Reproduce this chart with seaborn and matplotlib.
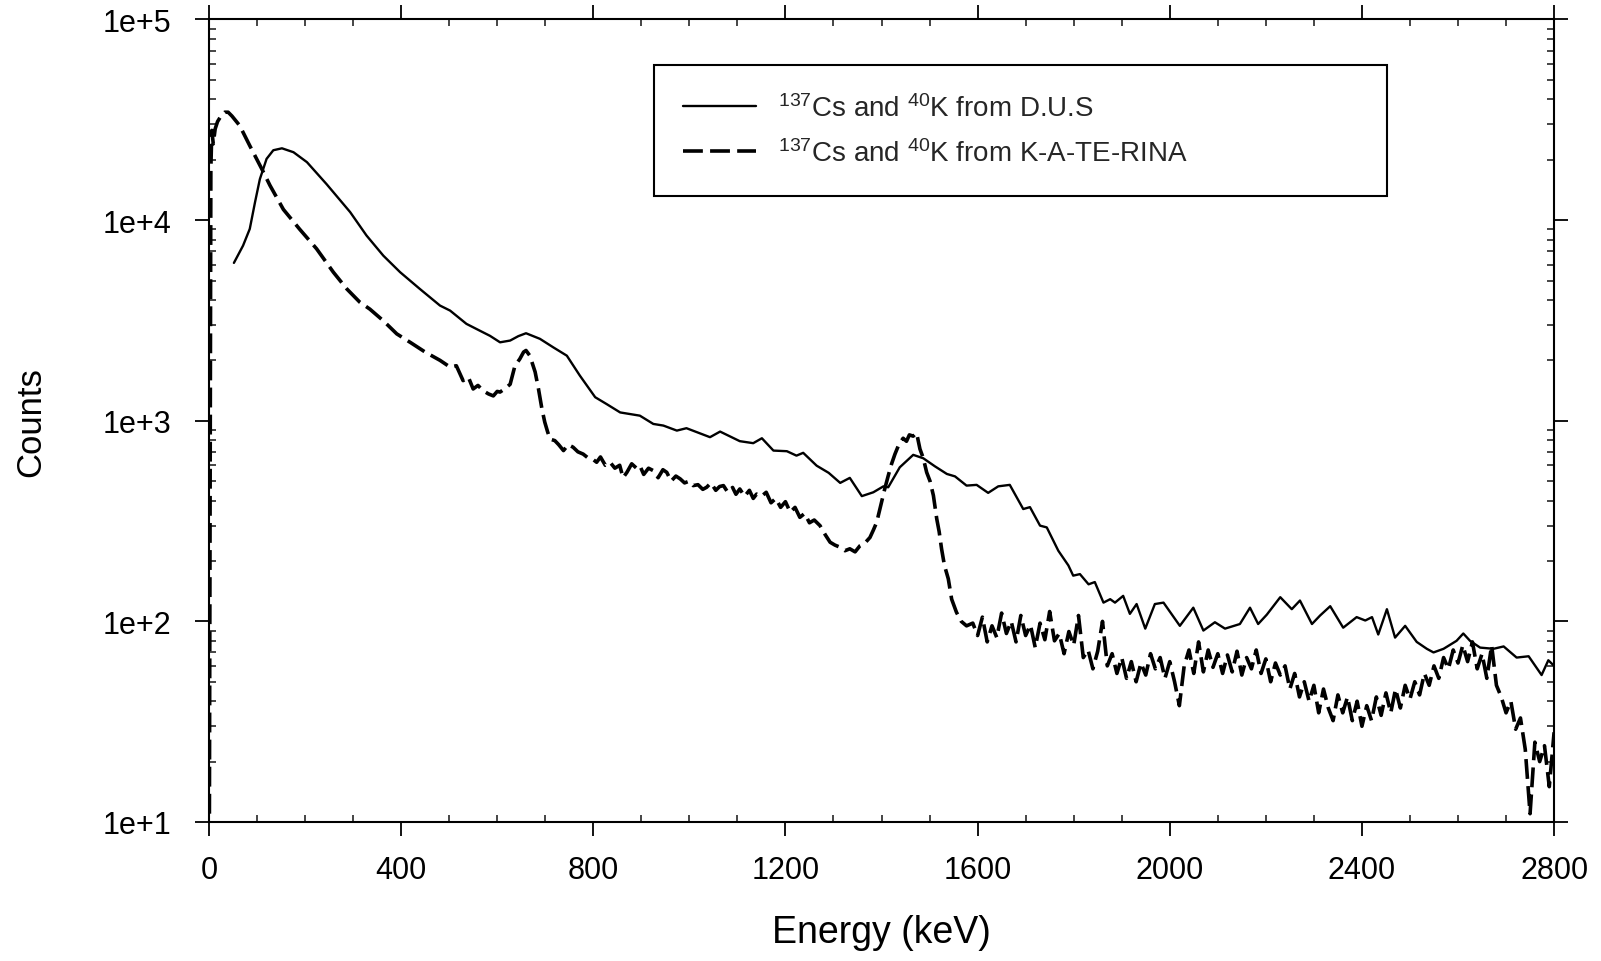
import matplotlib
matplotlib.use("Agg")
import matplotlib.pyplot as plt
import matplotlib.ticker as mticker
import seaborn as sns
import numpy as np

# ---------------- data ----------------
dus_energy = [52, 71, 85, 96, 106, 120, 134, 152, 176, 204, 245, 294, 328, 363, 398, 439,
              481, 502, 536, 564, 585, 606, 627, 644, 660, 689, 717, 745, 772, 804, 828,
              856, 897, 925, 946, 974, 994, 1043, 1064, 1105, 1133, 1151, 1175, 1203, 1223,
              1237, 1265, 1290, 1314, 1334, 1359, 1383, 1404, 1414, 1438, 1466, 1487, 1511,
              1536, 1553, 1577, 1598, 1622, 1643, 1667, 1695, 1709, 1730, 1744, 1768, 1789,
              1799, 1813, 1831, 1844, 1862, 1876, 1886, 1903, 1917, 1931, 1949, 1969, 1987,
              2021, 2049, 2070, 2094, 2115, 2146, 2167, 2184, 2202, 2230, 2254, 2271, 2296,
              2313, 2334, 2361, 2389, 2407, 2421, 2434, 2452, 2469, 2490, 2514, 2535, 2549,
              2570, 2597, 2611, 2625, 2646, 2674, 2695, 2722, 2747, 2774, 2788, 2800]
dus_counts = [6120, 7460, 9040, 12300, 16000, 20200, 22300, 22800, 21800, 19450, 15100, 10960,
              8380, 6650, 5500, 4540, 3750, 3540, 3040, 2810, 2650, 2460, 2510, 2640, 2730,
              2560, 2320, 2110, 1680, 1310, 1210, 1100, 1060, 964, 946, 893, 918, 828, 883,
              791, 773, 818, 710, 705, 670, 692, 597, 550, 490, 519, 421, 440, 471, 466, 586,
              676, 650, 593, 543, 528, 475, 479, 437, 471, 479, 363, 371, 300, 294, 225, 190,
              169, 172, 153, 157, 124, 129, 124, 134, 109, 122, 92, 122, 124, 95, 117, 90, 99,
              92, 97, 117, 97, 108, 132, 115, 127, 97, 107, 119, 93, 105, 101, 105, 86, 115,
              83, 95, 79, 73, 70, 73, 80, 87, 80, 74, 73, 75, 66, 67, 54, 64, 60]

kat_energy = [1, 2, 3, 4, 6, 9, 13, 18, 25, 33, 40, 48, 64, 85, 110, 127, 155, 189, 224, 259,
              287, 314, 335, 363, 391, 420, 450, 481, 502, 515, 529, 540, 550, 560, 571, 582,
              592, 600, 606, 617, 627, 637, 647, 655, 660, 668, 679, 686, 693, 699, 705, 710,
              720, 728, 738, 748, 758, 768, 779, 790, 800, 807, 815, 825, 835, 845, 855, 862,
              870, 880, 890, 897, 905, 915, 925, 935, 945, 953, 962, 972, 981, 990, 1000, 1008,
              1018, 1028, 1036, 1045, 1055, 1063, 1071, 1080, 1090, 1097, 1105, 1115, 1125,
              1133, 1140, 1150, 1160, 1170, 1180, 1190, 1200, 1210, 1220, 1230, 1240, 1250,
              1260, 1272, 1283, 1293, 1303, 1314, 1324, 1334, 1345, 1355, 1365, 1376, 1383,
              1390, 1400, 1407, 1414, 1421, 1428, 1436, 1445, 1452, 1458, 1466, 1473, 1480,
              1487, 1494, 1501, 1508, 1515, 1520, 1525, 1531, 1539, 1546, 1556, 1566, 1577,
              1590, 1600, 1610, 1620, 1630, 1640, 1650, 1660, 1670, 1680, 1690, 1700, 1710,
              1720, 1730, 1740, 1750, 1760, 1770, 1780, 1790, 1800, 1810, 1820, 1830, 1840,
              1850, 1860, 1870, 1880, 1890, 1900, 1910, 1920, 1930, 1940, 1950, 1960, 1970,
              1980, 1990, 2000, 2010, 2020, 2030, 2040, 2050, 2060, 2070, 2080, 2090, 2100,
              2110, 2120, 2130, 2140, 2150, 2160, 2170, 2180, 2190, 2200, 2210, 2220, 2230,
              2240, 2250, 2260, 2270, 2280, 2290, 2300, 2310, 2320, 2330, 2340, 2350, 2360,
              2370, 2380, 2390, 2400, 2410, 2420, 2430, 2440, 2450, 2460, 2470, 2480, 2490,
              2500, 2510, 2520, 2530, 2540, 2550, 2560, 2570, 2580, 2590, 2600, 2610, 2620,
              2630, 2640, 2650, 2660, 2670, 2680, 2690, 2700, 2710, 2720, 2730, 2740, 2750,
              2760, 2770, 2780, 2790, 2800]
kat_counts = [11, 150, 3000, 18000, 28000, 24000, 28500, 31000, 33000, 34500, 34500, 33000,
              29600, 23500, 18000, 14900, 11300, 9000, 7200, 5500, 4540, 3900, 3600, 3150,
              2710, 2450, 2200, 2000, 1850, 1880, 1585, 1650, 1440, 1500, 1410, 1360, 1330,
              1400, 1390, 1450, 1520, 1880, 2030, 2200, 2240, 2110, 1750, 1440, 1150, 985,
              880, 810, 796, 760, 710, 760, 738, 700, 682, 650, 640, 621, 660, 600, 621, 580,
              600, 520, 553, 610, 580, 597, 540, 580, 564, 520, 570, 553, 500, 530, 513, 490,
              500, 475, 480, 455, 466, 490, 450, 470, 475, 440, 465, 430, 457, 420, 450, 410,
              431, 420, 440, 390, 410, 370, 395, 350, 370, 330, 345, 310, 320, 300, 270, 248,
              240, 234, 225, 230, 222, 238, 245, 262, 285, 312, 393, 460, 532, 610, 682, 760,
              818, 790, 850, 838, 870, 723, 650, 553, 500, 424, 324, 280, 230, 190, 163, 129,
              111, 100, 95,
              98, 85, 105, 79, 95, 83, 110, 87, 100, 79, 107, 85, 96, 74, 98, 81, 112, 80, 87,
              69, 89, 76, 107, 66, 72, 58, 71, 100, 60, 69, 55, 66, 52, 63, 50, 62, 54, 69, 58,
              66, 52, 63, 50, 38, 60, 72, 55, 79, 56, 72, 59, 69, 55, 68, 56, 71, 54, 66, 58,
              72, 55, 65, 50, 62, 54, 60, 46, 55, 42, 50, 40, 48, 35, 46, 37, 32, 43, 35, 42,
              32, 40, 30, 38, 32, 42, 34, 44, 35, 46, 37, 48, 41, 50, 43, 55, 48, 60, 52, 66,
              58, 72, 62, 76, 63, 79, 58, 69, 52, 76, 48, 42, 35, 40, 29, 33, 23, 11, 25, 20,
              24, 15, 28]

series_labels = [r"$^{137}$Cs and $^{40}$K from D.U.S",
                 r"$^{137}$Cs and $^{40}$K from K-A-TE-RINA"]
x_ticks = [0, 400, 800, 1200, 1600, 2000, 2400, 2800]
y_ticks = [1e1, 1e2, 1e3, 1e4, 1e5]
y_tick_labels = ["1e+1", "1e+2", "1e+3", "1e+4", "1e+5"]
x_label = "Energy (keV)"
y_label = "Counts"

# ---------------- style ----------------
sns.set_theme(style="ticks")
plt.rcParams["font.family"] = ["Liberation Sans", "DejaVu Sans"]
plt.rcParams["mathtext.default"] = "regular"
plt.rcParams["axes.linewidth"] = 1.5

fig, ax = plt.subplots(figsize=(16.01, 9.62), dpi=100)
fig.subplots_adjust(left=0.1305, right=0.9707, top=0.9787, bottom=0.1445)

sns.lineplot(x=dus_energy, y=dus_counts, ax=ax, color="black", lw=1.7,
             estimator=None, sort=False, label=series_labels[0])
sns.lineplot(x=kat_energy, y=kat_counts, ax=ax, color="black", lw=2.6,
             estimator=None, sort=False, linestyle=(0, (5.5, 2.0)),
             label=series_labels[1])

ax.set_yscale("log")
ax.set_xlim(0, 2800)
ax.set_ylim(10, 1e5)

ax.set_xticks(x_ticks)
ax.xaxis.set_major_formatter(mticker.FuncFormatter(lambda v, p: f"{int(v)}"))
ax.xaxis.set_minor_locator(mticker.MultipleLocator(100))
ax.set_yticks(y_ticks)
ax.set_yticklabels(y_tick_labels)
ax.yaxis.set_minor_locator(mticker.LogLocator(base=10, subs=np.arange(2, 10)))
ax.yaxis.set_minor_formatter(mticker.NullFormatter())

ax.tick_params(which="major", direction="out", length=10, width=1.3,
               top=True, right=True, labelsize=22, colors="black")
ax.tick_params(axis="x", which="major", pad=14)
ax.tick_params(axis="y", which="major", pad=17)
ax.tick_params(which="minor", direction="in", length=5, width=1.2,
               top=True, right=True)

for s in ax.spines.values():
    s.set_visible(True)
    s.set_color("black")
    s.set_linewidth(1.5)

ax.set_xlabel(x_label, fontsize=27, color="black")
ax.set_ylabel(y_label, fontsize=25, color="black")
ax.xaxis.set_label_coords(0.5, -0.115)
ax.yaxis.set_label_coords(-0.12, 0.5)

leg = ax.legend(loc="upper left", bbox_to_anchor=(0.331, 0.943, 0.545, 0.0),
                mode="expand", borderaxespad=0, frameon=True, fancybox=False,
                edgecolor="black", framealpha=1, fontsize=20, handlelength=2.6,
                handletextpad=0.8, borderpad=1.05, labelspacing=0.62)
leg.get_frame().set_linewidth(1.5)

fig.savefig("out.png", dpi=100, facecolor="white")
